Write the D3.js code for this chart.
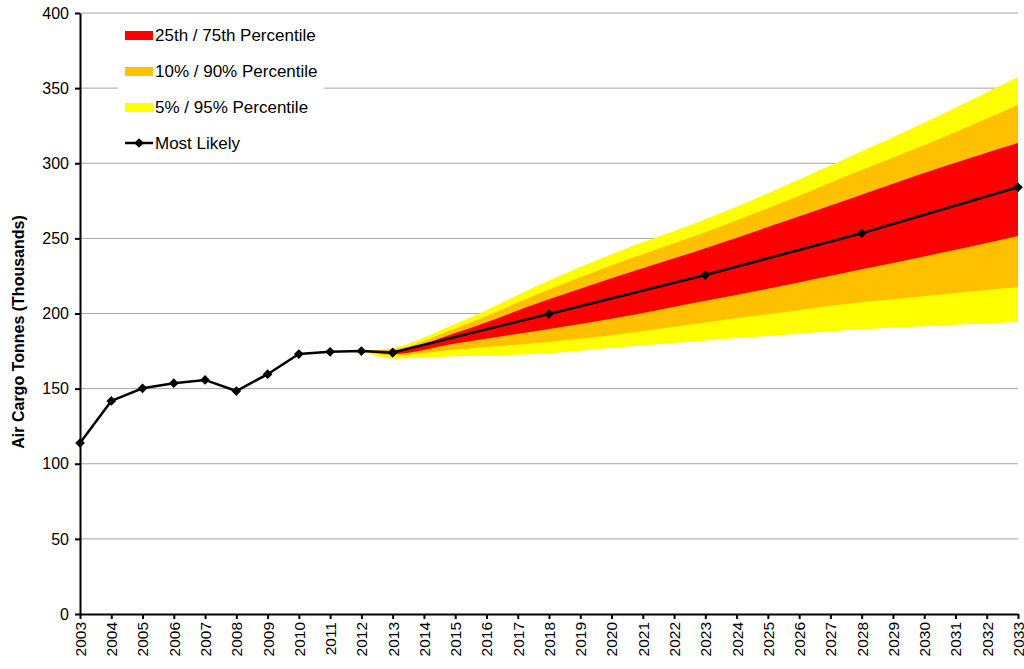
<!DOCTYPE html>
<html>
<head>
<meta charset="utf-8">
<script src="https://cdn.jsdelivr.net/npm/d3@7"></script>
<style>
  body { margin: 0; background: #fff; }
  svg { font-family: "Liberation Sans", Arial, sans-serif; }
</style>
</head>
<body>
<div id="chart"></div>
<script>
// history (actuals)
const histYears = [2003, 2004, 2005, 2006, 2007, 2008, 2009, 2010, 2011, 2012, 2013];
const histValues = [113.8, 141.8, 150.2, 153.6, 155.8, 148.4, 159.6, 173, 174.5, 175, 174];

// most likely forecast
const fcYears = [2013, 2018, 2023, 2028, 2033];
const fcValues = [174, 199.7, 225.6, 253.4, 284];

// percentile bands
const bandYears = [2012, 2013, 2015, 2018, 2020, 2023, 2025, 2028, 2030, 2033];
const p95 = [175, 177, 193, 222, 239.5, 262.7, 280, 308, 327, 357.4];
const p90 = [175, 176, 190, 216, 232, 254, 270, 295.5, 312, 338.8];
const p75 = [175, 175, 187, 209.5, 223.5, 243.4, 257.5, 279, 293.5, 313.5];
const p25 = [175, 173, 180, 189.7, 196.5, 208.5, 216.5, 229.5, 238, 251.6];
const p10 = [175, 172, 176, 181, 185.5, 194, 199.5, 207.5, 211.5, 217.6];
const p5 = [175, 170, 171.5, 173.5, 177, 182, 185, 189.5, 191.5, 194.3];

const yTicks = [0, 50, 100, 150, 200, 250, 300, 350, 400];
const xTicks = d3.range(2003, 2034);

const legendItems = [
  {label: "25th / 75th Percentile", color: "#ff0000"},
  {label: "10% / 90% Percentile", color: "#ffc000"},
  {label: "5% / 95% Percentile", color: "#ffff00"},
  {label: "Most Likely", color: null}
];

const width = 1024, height = 669;
const margin = {top: 13, right: 6, bottom: 55, left: 80};

const svg = d3.select("#chart").append("svg")
  .attr("width", width)
  .attr("height", height);

const x = d3.scaleLinear()
  .domain([2003, 2033])
  .range([margin.left, width - margin.right]);

const y = d3.scaleLinear()
  .domain([0, 400])
  .range([height - margin.bottom, margin.top]);

// gridlines
svg.append("g")
  .selectAll("line")
  .data(yTicks.filter(d => d > 0))
  .join("line")
  .attr("x1", x(2003))
  .attr("x2", x(2033))
  .attr("y1", d => y(d))
  .attr("y2", d => y(d))
  .attr("stroke", "#a6a6a6")
  .attr("stroke-width", 1);

// bands
const bands = [
  {hi: p95, lo: p5, color: "#ffff00"},
  {hi: p90, lo: p10, color: "#ffc000"},
  {hi: p75, lo: p25, color: "#ff0000"}
];

const area = d3.area()
  .x(d => x(d.year))
  .y0(d => y(d.lo))
  .y1(d => y(d.hi))
  .curve(d3.curveMonotoneX);

bands.forEach(b => {
  let rows = bandYears.map((yr, i) => ({year: yr, hi: b.hi[i], lo: b.lo[i]}));
  svg.append("path")
    .datum(rows)
    .attr("d", area)
    .attr("fill", b.color);
});

// legend box
const legend = svg.append("g");
legend.append("rect")
  .attr("x", 118)
  .attr("y", 14)
  .attr("width", 206)
  .attr("height", 146)
  .attr("fill", "#fff");

const diamond = d3.symbol().type(d3.symbolDiamond2).size(60);

legendItems.forEach((d, i) => {
  let cy = 35 + i * 36;
  if (d.color) {
    legend.append("rect")
      .attr("x", 125)
      .attr("y", cy - 4)
      .attr("width", 28)
      .attr("height", 9)
      .attr("fill", d.color);
  } else {
    legend.append("line")
      .attr("x1", 125).attr("x2", 153)
      .attr("y1", cy).attr("y2", cy)
      .attr("stroke", "#000").attr("stroke-width", 2.5);
    legend.append("path")
      .attr("d", diamond)
      .attr("transform", `translate(139,${cy})`)
      .attr("fill", "#000");
  }
  legend.append("text")
    .attr("x", 155)
    .attr("y", cy + 6)
    .attr("font-size", 17)
    .attr("fill", "#000")
    .text(d.label);
});

// lines
const line = d3.line()
  .x(d => x(d[0]))
  .y(d => y(d[1]));

const histPts = histYears.map((yr, i) => [yr, histValues[i]]);
const fcPts = fcYears.map((yr, i) => [yr, fcValues[i]]);

[histPts, fcPts].forEach(pts => {
  svg.append("path")
    .datum(pts)
    .attr("d", line)
    .attr("fill", "none")
    .attr("stroke", "#000")
    .attr("stroke-width", 2.5);

  svg.append("g")
    .selectAll("path")
    .data(pts)
    .join("path")
    .attr("d", diamond)
    .attr("transform", d => `translate(${x(d[0])},${y(d[1])})`)
    .attr("fill", "#000");
});

// y axis
const yAxis = svg.append("g")
  .attr("transform", `translate(${margin.left},0)`)
  .call(d3.axisLeft(y).tickValues(yTicks).tickSize(5).tickSizeOuter(0).tickPadding(6));
yAxis.select(".domain").attr("stroke-width", 2);
yAxis.selectAll(".tick line").attr("stroke-width", 2);
yAxis.selectAll("text")
  .attr("font-size", 16)
  .attr("font-family", "Liberation Sans, Arial, sans-serif")
  .attr("fill", "#000");

// x axis
const xAxis = svg.append("g")
  .attr("transform", `translate(0,${height - margin.bottom})`)
  .call(d3.axisBottom(x).tickValues(xTicks).tickFormat(d3.format("d")).tickSize(5).tickSizeOuter(0));
xAxis.select(".domain").attr("stroke-width", 2);
xAxis.selectAll(".tick line").attr("stroke-width", 2);
xAxis.selectAll("text")
  .attr("font-size", 15.5)
  .attr("font-family", "Liberation Sans, Arial, sans-serif")
  .attr("fill", "#000")
  .attr("transform", "rotate(-90)")
  .attr("text-anchor", "end")
  .attr("x", -8)
  .attr("y", 0)
  .attr("dy", "0.35em");

// y title
svg.append("text")
  .attr("transform", `translate(24,332) rotate(-90)`)
  .attr("text-anchor", "middle")
  .attr("font-size", 16)
  .attr("font-weight", "bold")
  .attr("fill", "#000")
  .text("Air Cargo Tonnes (Thousands)");
</script>
</body>
</html>
